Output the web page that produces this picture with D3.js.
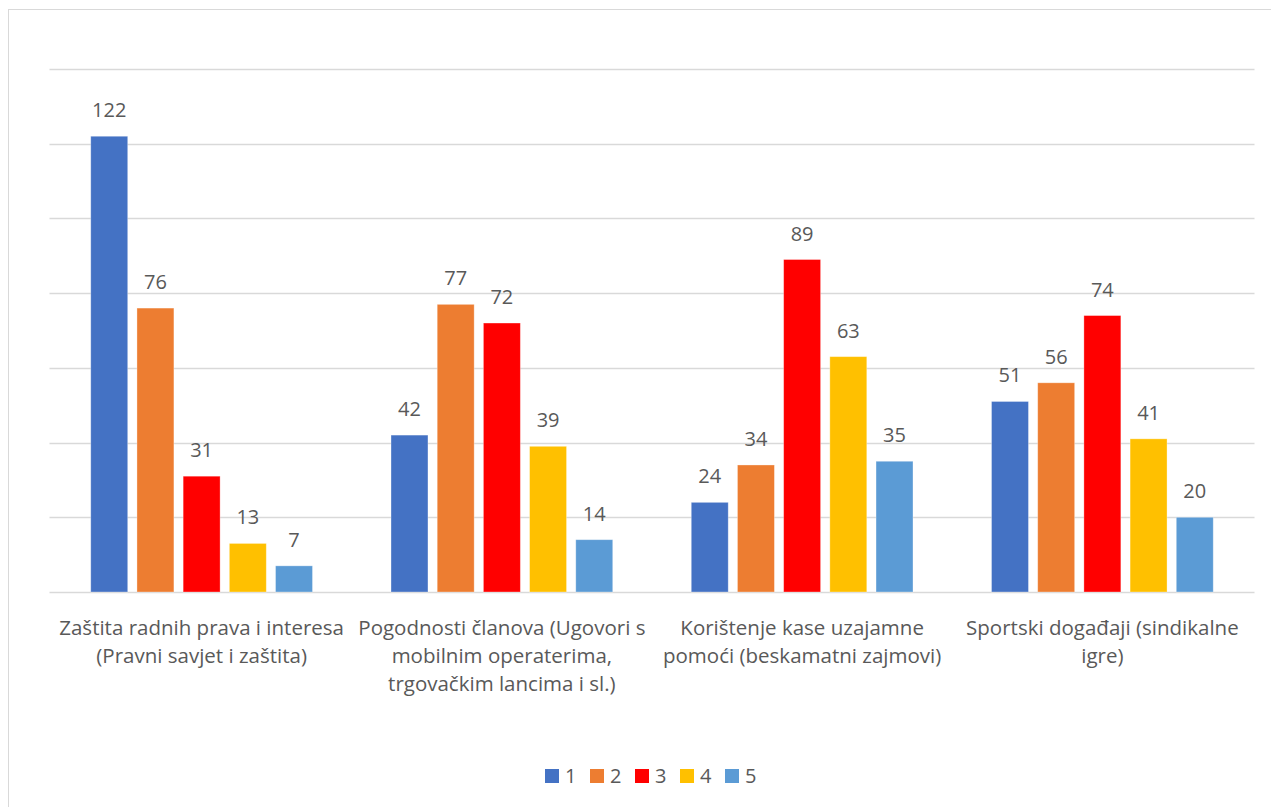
<!DOCTYPE html>
<html>
<head>
<meta charset="utf-8">
<script src="https://cdn.jsdelivr.net/npm/d3@7"></script>
<style>
  html, body { margin: 0; padding: 0; background: #fff; }
  svg { display: block; }
</style>
</head>
<body>
<div id="chart"></div>
<script>
const categories = [
  "Zaštita radnih prava i interesa\n(Pravni savjet i zaštita)",
  "Pogodnosti članova (Ugovori s\nmobilnim operaterima,\ntrgovačkim lancima i sl.)",
  "Korištenje kase uzajamne\npomoći (beskamatni zajmovi)",
  "Sportski događaji (sindikalne\nigre)"
];
const seriesNames = ["1", "2", "3", "4", "5"];
const s1 = [122, 42, 24, 51];
const s2 = [76, 77, 34, 56];
const s3 = [31, 72, 89, 74];
const s4 = [13, 39, 63, 41];
const s5 = [7, 14, 35, 20];
const series = [s1, s2, s3, s4, s5];
const colors = ["#4472C4", "#ED7D31", "#FF0000", "#FFC000", "#5B9BD5"];
const yTicks = [0, 20, 40, 60, 80, 100, 120, 140];

const width = 1271, height = 807;
const margin = { left: 51.5, right: 18.5, top: 69, bottom: 215 };
const font = "Open Sans, sans-serif";
const textColor = "#595959";

const svg = d3.select("#chart").append("svg")
  .attr("width", width).attr("height", height)
  .style("font-family", font);

// chart frame
svg.append("rect")
  .attr("x", 8.5).attr("y", 9.5)
  .attr("width", width).attr("height", height)
  .attr("fill", "#fff").attr("stroke", "#d9d9d9");

const x0 = d3.scaleBand()
  .domain(d3.range(categories.length))
  .range([margin.left, width - margin.right]);

const x1 = d3.scaleBand()
  .domain(d3.range(series.length))
  .range([0, x0.bandwidth()])
  .paddingInner(0.2)
  .paddingOuter(0.85);

const y = d3.scaleLinear()
  .domain([0, 140])
  .range([height - margin.bottom, margin.top]);

// gridlines
svg.append("g")
  .selectAll("line")
  .data(yTicks)
  .join("line")
  .attr("x1", margin.left - 2).attr("x2", width - margin.right + 2)
  .attr("y1", d => Math.round(y(d)) + 0.5).attr("y2", d => Math.round(y(d)) + 0.5)
  .attr("stroke", "#d9d9d9").attr("stroke-width", 1.5);

// bars
const groups = svg.append("g")
  .selectAll("g")
  .data(categories)
  .join("g")
  .attr("transform", (d, i) => `translate(${x0(i)},0)`);

groups.selectAll("rect")
  .data((d, i) => series.map((s, k) => ({ k, v: s[i] })))
  .join("rect")
  .attr("x", d => x1(d.k))
  .attr("width", x1.bandwidth())
  .attr("y", d => y(d.v))
  .attr("height", d => y(0) - y(d.v))
  .attr("fill", d => colors[d.k])
  .attr("stroke", "#fff").attr("stroke-opacity", 0.4).attr("stroke-width", 0.8);

groups.selectAll("text.val")
  .data((d, i) => series.map((s, k) => ({ k, v: s[i] })))
  .join("text")
  .attr("class", "val")
  .attr("x", d => x1(d.k) + x1.bandwidth() / 2)
  .attr("y", d => y(d.v) - 19)
  .attr("text-anchor", "middle")
  .attr("fill", textColor)
  .attr("font-size", 20)
  .text(d => d.v);

// category labels
groups.append("text")
  .attr("text-anchor", "middle")
  .attr("fill", textColor)
  .attr("font-size", 20.5)
  .selectAll("tspan")
  .data(d => d.split("\n"))
  .join("tspan")
  .attr("x", x0.bandwidth() / 2)
  .attr("y", (d, i) => y(0) + 43 + i * 28)
  .text(d => d);

// legend
const legend = svg.append("g").attr("transform", "translate(545,769)");
const item = legend.selectAll("g")
  .data(seriesNames)
  .join("g")
  .attr("transform", (d, i) => `translate(${i * 45},0)`);
item.append("rect")
  .attr("width", 14).attr("height", 14)
  .attr("fill", (d, i) => colors[i]);
item.append("text")
  .attr("x", 20).attr("y", 14)
  .attr("fill", textColor)
  .attr("font-size", 20)
  .text(d => d);
</script>
</body>
</html>
